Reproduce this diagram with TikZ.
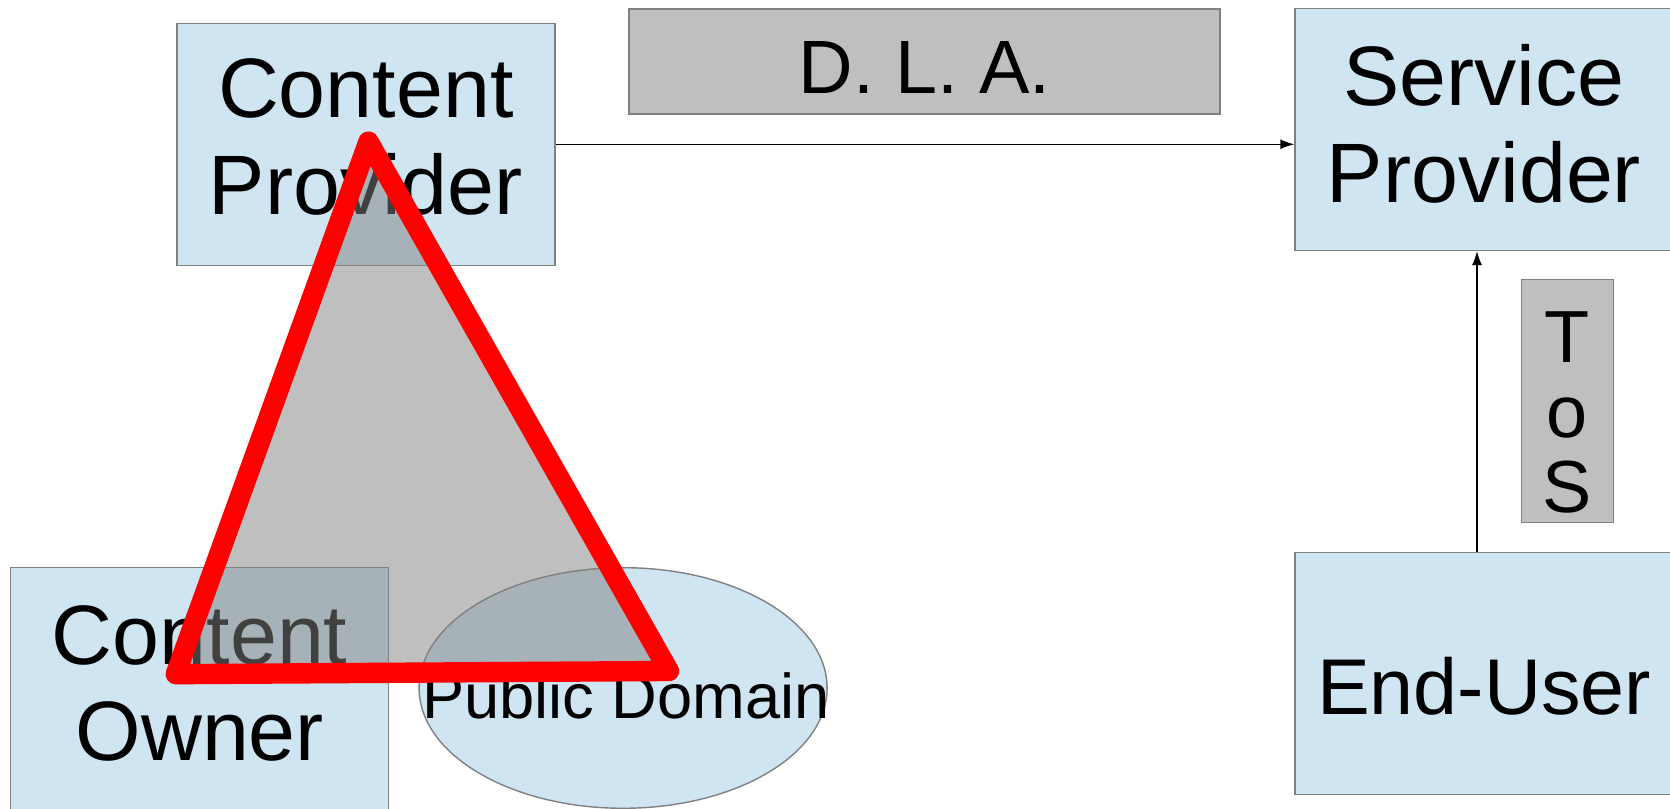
\documentclass[tikz,border=0pt]{standalone}
\usepackage{fontspec}
\setmainfont{Liberation Sans}
\usetikzlibrary{arrows.meta}
\definecolor{boxblue}{RGB}{207,229,242}
\definecolor{boxgray}{RGB}{191,191,191}
\begin{document}
\begin{tikzpicture}[
    party/.style={draw=black!50, fill=boxblue, minimum width=3.78cm, minimum height=2.42cm, inner sep=0pt, align=center, font=\fontsize{24}{27.5}\selectfont},
    deal/.style={draw=black!50, fill=boxgray, inner sep=0pt, align=center}]
    \useasboundingbox (0,0) rectangle (16.7,8.09) ;
    \node[party, text depth=0.15cm] (cp) at (3.658,6.647) {Content\\Provider} ;
    \node[party, text depth=0.12cm] (sp) at (14.84,6.796) {Service\\Provider} ;
    \node[party, text height=0.815cm, text depth=0cm, font=\fontsize{22.5}{26}\selectfont] (eu) at (14.84,1.354) {End-User} ;
    \node[party, text depth=0.11cm] (co) at (1.997,1.204) {Content\\Owner} ;
    \node[deal, minimum width=5.91cm, minimum height=1.05cm, text height=0.65cm, text depth=0cm, font=\fontsize{21.5}{24}\selectfont] (dla) at (9.245,7.475) {D. L. A.} ;
    \node[deal, minimum width=0.916cm, minimum height=2.434cm, text height=2.234cm, text depth=0cm, font=\fontsize{21}{21.4}\selectfont] (tos) at (15.675,4.08) {T\\o\\S} ;
    \draw[draw=black!50, fill=boxblue] (6.231,1.21) ellipse (2.04 and 1.203) ;
    \node[font=\fontsize{18}{20}\selectfont] (pd) at (6.26,1.135) {Public Domain} ;
    \draw[->,>={Latex[length=1.4mm,width=1mm]}] (cp.east) -- (cp.east -| sp.west) ;
    \draw[->,>={Latex[length=1.4mm,width=1mm]}] ([xshift=-0.07cm]eu.north) -- ([xshift=-0.07cm]sp.south) ;
    \draw[red, line width=5.8pt, line join=round, fill=gray, fill opacity=0.5] (3.685,6.673) -- (1.757,1.348) -- (6.689,1.38) -- cycle ;
\end{tikzpicture}
\end{document}
